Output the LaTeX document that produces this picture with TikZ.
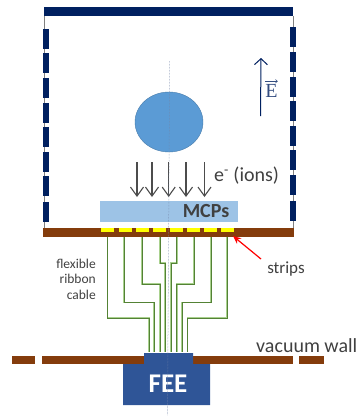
\documentclass[tikz,border=0pt]{standalone}
\usepackage{fontspec}
\setmainfont{Carlito}
\newfontfamily\eserif{Liberation Serif}
\usetikzlibrary{arrows.meta}
\definecolor{navy}{HTML}{002060}
\definecolor{brownwall}{HTML}{843C0C}
\definecolor{ballblue}{HTML}{5B9BD5}
\definecolor{mcpblue}{HTML}{9DC3E6}
\definecolor{feeblue}{HTML}{2F5597}
\definecolor{stripyellow}{HTML}{FFFF00}
\definecolor{cablegreen}{HTML}{A9D18E}
\definecolor{cabledark}{HTML}{548235}
\tikzset{
  x=1pt,y=-1pt,
  navybar/.style={fill=navy,draw=none},
  wall/.style={fill=brownwall,draw=none},
  strip/.style={fill=stripyellow,draw=none},
  cable/.style={draw=cabledark,line width=0.8pt,preaction={draw=cablegreen,line width=1.9pt}},
  fieldline/.style={draw=gray,line width=0.6pt},
  axisline/.style={draw=navy!55,line width=0.5pt,densely dotted},
  ionarrow/.style={draw=black!70,line width=1.1pt,-{Straight Barb[length=9pt,width=13pt]}},
  lbl/.style={inner sep=0pt,text=black!75}
}
\begin{document}
\begin{tikzpicture}
\useasboundingbox (0,0) rectangle (356,416);
% field cage
\draw[fieldline] (44.5,16) -- (44.5,228);
\draw[fieldline] (293,16) -- (293,228);
\fill[navybar] (44,7) rectangle (293,16);
\foreach \y in {29,53,78,103,127,152,176,202} {
  \fill[navybar] (42.8,\y) rectangle (48.6,\y+19.5);
}
\foreach \y in {27,52,77,101,126,150,175,201} {
  \fill[navybar] (289.6,\y) rectangle (295.6,\y+19.5);
}
% ball
\draw[fill=ballblue,draw=ballblue!80!black,line width=0.4pt] (169,122) ellipse [x radius=34,y radius=30];
% MCPs
\node[fill=mcpblue,minimum width=137.7pt,minimum height=21pt,inner sep=0pt] (mcp) at (168.9,211.2) {};
\node[lbl,font=\bfseries\fontsize{20}{20}\selectfont] (mcplabel) at (206,211) {MCPs};
% ion arrows
\foreach \x [count=\i] in {137,152,168.7,186,204.5} {
  \coordinate (ia\i) at (\x,162);
  \coordinate (ib\i) at (\x,197);
  \draw[ionarrow] (ia\i) -- (ib\i);
}
\node[lbl,font=\fontsize{20}{20}\selectfont,anchor=west] (elabel) at (214,176) {e\textsuperscript{-} (ions)};
% plate
\fill[wall] (43,228) rectangle (293.5,237);
\foreach \x in {101,118.7,136.3,153.3,170,187,204.3,220.7} {
  \fill[strip] (\x,227.5) rectangle (\x+13,231.8);
}
% cables
\draw[cable] (107.5,237) -- (107.5,318) -- (149,318) -- (149,352);
\draw[cable] (124,237) -- (124,302.5) -- (154.3,302.5) -- (154.3,352);
\draw[cable] (142,237) -- (142,284) -- (160,284) -- (160,352);
\draw[cable] (160,237) -- (160,263) -- (165.3,263) -- (165.3,352);
\draw[cable] (176.7,237) -- (176.7,263) -- (171.3,263) -- (171.3,352);
\draw[cable] (194.3,237) -- (194.3,284) -- (176.7,284) -- (176.7,352);
\draw[cable] (211.3,237) -- (211.3,302.5) -- (182.3,302.5) -- (182.3,352);
\draw[cable] (227.3,237) -- (227.3,318) -- (187.5,318) -- (187.5,352);
% vacuum wall
\fill[wall] (12,356) rectangle (35,364);
\fill[wall] (42,356) rectangle (144,364);
\fill[wall] (193,356) rectangle (293,364);
\fill[wall] (299,356) rectangle (323.5,364);
% FEE
\fill[feeblue] (144,353) -- (193,353) -- (193,364) -- (210,364) -- (210,405) -- (123,405) -- (123,364) -- (144,364) -- cycle;
\node[font=\bfseries\fontsize{27}{27}\selectfont,text=white,inner sep=0pt] (fee) at (168,384) {FEE};
% central axis
\coordinate (axt) at (169.7,61);
\coordinate (axb) at (167.5,415);
\draw[axisline] (axt) -- (axb);
% E field
\coordinate (et) at (261,58);
\coordinate (eb) at (260.5,116);
\draw[draw=navy,line width=1pt,-{Straight Barb[length=6pt,width=13pt]}] (eb) -- (et);
\node[inner sep=0pt,font=\eserif\fontsize{20}{20}\selectfont,text=navy!80] (elab) at (271.5,91) {E};
\draw[draw=navy!80,line width=0.5pt,-{Straight Barb[length=2pt,width=3.5pt]}] ([yshift=3pt]elab.north west) -- ([yshift=3pt]elab.north east);
% labels
\node[lbl,font=\fontsize{13.5}{15.5}\selectfont,align=right,anchor=east] (ribbon) at (96,279) {flexible\\ribbon\\cable};
\node[lbl,font=\fontsize{17}{17}\selectfont] (strips) at (286,269) {strips};
\coordinate (stripsarrow) at (261,259);
\coordinate (stripstip) at (233,236);
\draw[draw=red,line width=1.2pt,-{Stealth[length=8pt,width=7pt]}] (stripsarrow) -- (stripstip);
\node[lbl,font=\fontsize{20}{20}\selectfont,anchor=west] (vac) at (256,346) {vacuum wall};
\end{tikzpicture}
\end{document}
